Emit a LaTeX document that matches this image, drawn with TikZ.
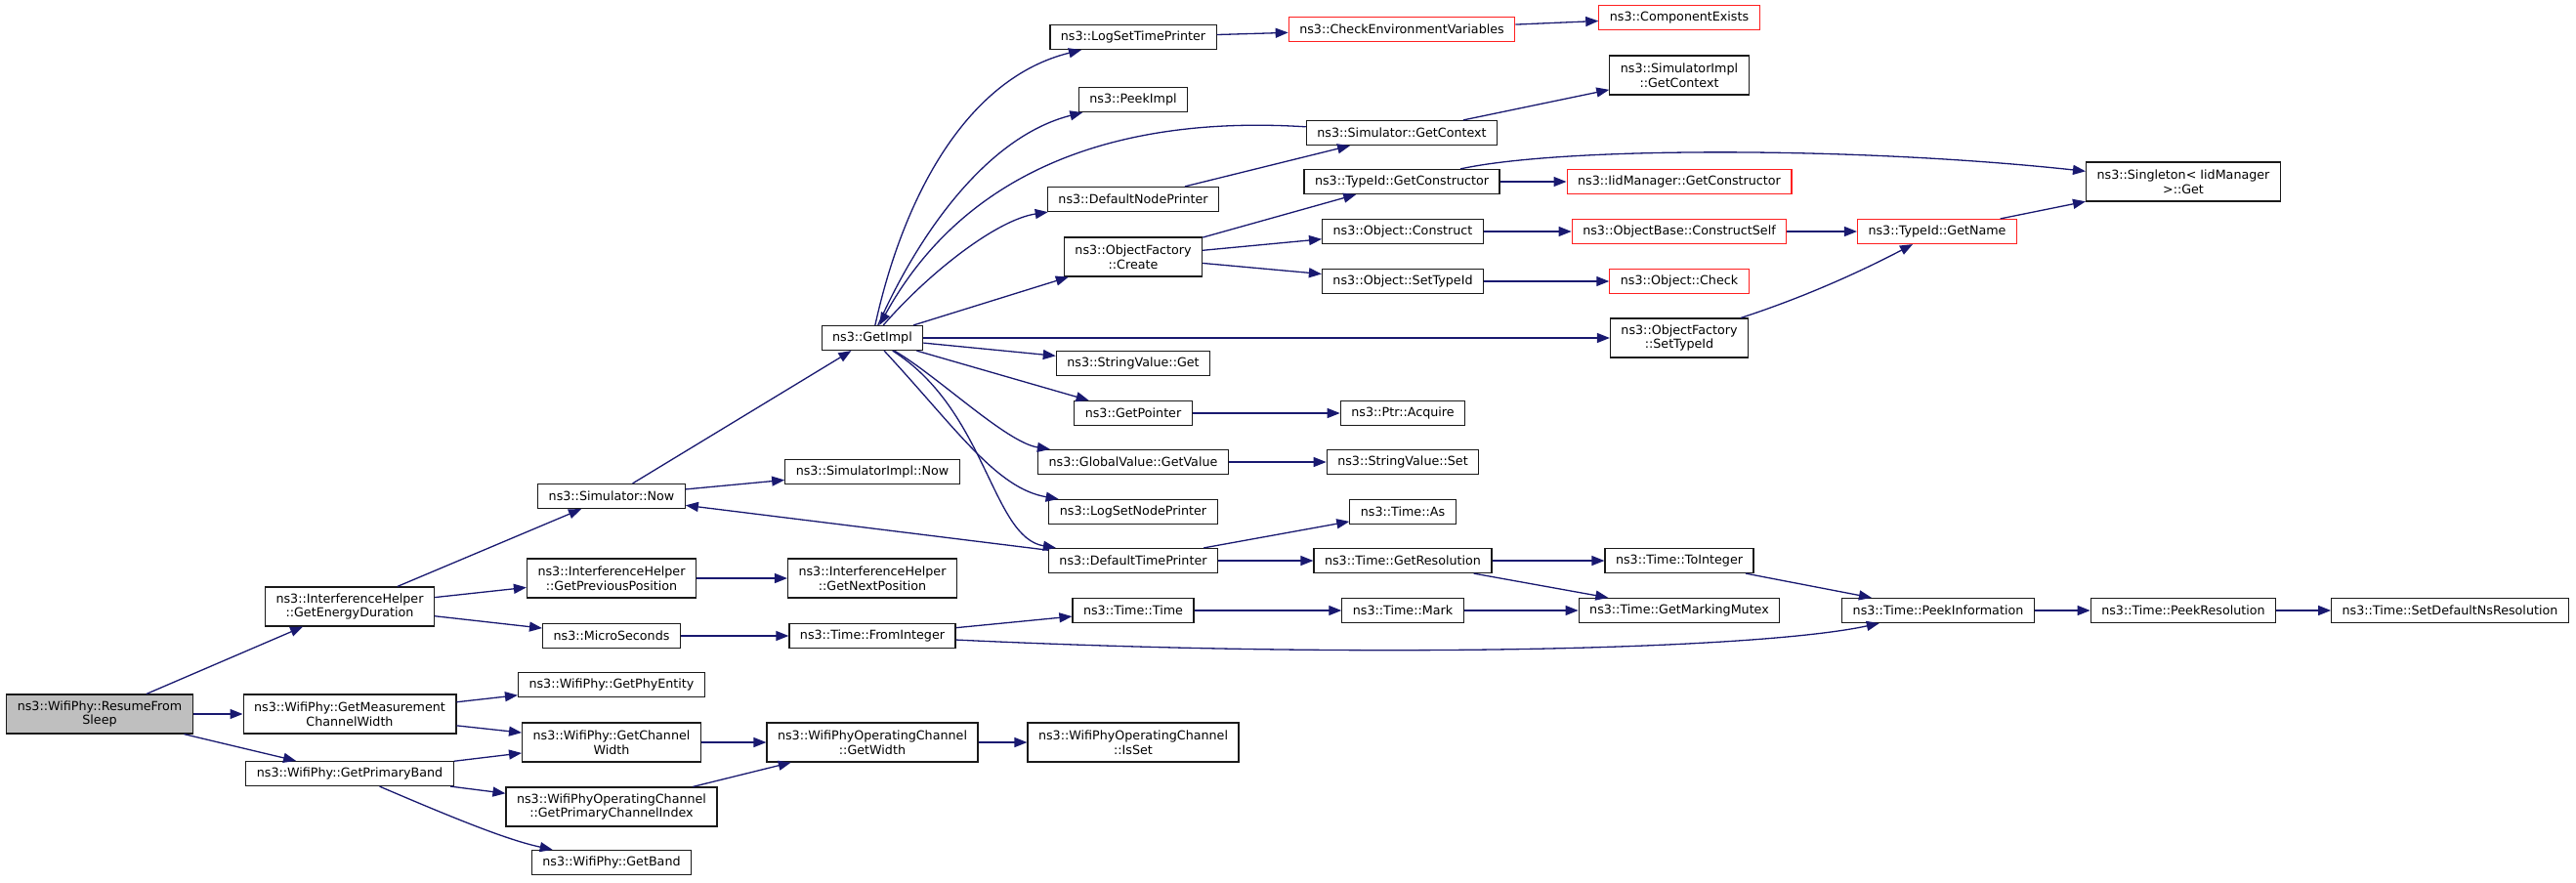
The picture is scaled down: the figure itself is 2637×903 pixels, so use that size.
\documentclass[tikz,border=0pt]{standalone}
\usepackage{fontspec}
\setmainfont{DejaVu Sans}
\usepackage{tikz}
\usetikzlibrary{arrows.meta}
\definecolor{callc}{HTML}{191970}
\definecolor{miss}{HTML}{FF2020}
\definecolor{rootfill}{HTML}{BFBFBF}
\definecolor{ink}{HTML}{1A1A1A}
\tikzset{
  fn/.style={rectangle, draw=ink, fill=white, line width=1.2pt, align=center,
             font=\fontsize{12.7}{14.6}\selectfont, inner xsep=11pt, inner ysep=2pt,
             minimum height=25pt},
  two/.style={fn, minimum height=40pt},
  fnx/.style={fn, draw=miss},
  root/.style={two, fill=rootfill},
  call/.style={-{Triangle[length=13pt,width=10pt]}, draw=callc, line width=1.3pt}
}

\begin{document}
\begin{tikzpicture}[x=1pt, y=-1pt]
  \useasboundingbox (0,0) rectangle (2637,903);
  \node[root] (resume) at (102,731) {ns3::WifiPhy::ResumeFrom\\Sleep};
  \node[two] (energy) at (358,621) {ns3::InterferenceHelper\\::GetEnergyDuration};
  \node[two] (meas) at (358,731) {ns3::WifiPhy::GetMeasurement\\ChannelWidth};
  \node[fn] (pband) at (358,792) {ns3::WifiPhy::GetPrimaryBand};
  \node[fn] (simnow) at (626,508) {ns3::Simulator::Now};
  \node[two] (prevpos) at (626,592) {ns3::InterferenceHelper\\::GetPreviousPosition};
  \node[fn] (micro) at (626,651) {ns3::MicroSeconds};
  \node[fn] (phyent) at (626,701) {ns3::WifiPhy::GetPhyEntity};
  \node[two] (chwidth) at (626,760) {ns3::WifiPhy::GetChannel\\Width};
  \node[two] (pcidx) at (626,826) {ns3::WifiPhyOperatingChannel\\::GetPrimaryChannelIndex};
  \node[fn] (band) at (626,883) {ns3::WifiPhy::GetBand};
  \node[fn] (getimpl) at (893,346) {ns3::GetImpl};
  \node[fn] (implnow) at (893,483) {ns3::SimulatorImpl::Now};
  \node[two] (nextpos) at (893,592) {ns3::InterferenceHelper\\::GetNextPosition};
  \node[fn] (fromint) at (893,651) {ns3::Time::FromInteger};
  \node[two] (opwidth) at (893,760) {ns3::WifiPhyOperatingChannel\\::GetWidth};
  \node[two] (isset) at (1160,760) {ns3::WifiPhyOperatingChannel\\::IsSet};
  \node[fn] (logtime) at (1160,38) {ns3::LogSetTimePrinter};
  \node[fn] (peekimpl) at (1160,102) {ns3::PeekImpl};
  \node[fn] (nodepr) at (1160,204) {ns3::DefaultNodePrinter};
  \node[two] (create) at (1160,263) {ns3::ObjectFactory\\::Create};
  \node[fn] (strget) at (1160,372) {ns3::StringValue::Get};
  \node[fn] (getptr) at (1160,423) {ns3::GetPointer};
  \node[fn] (gvget) at (1160,473) {ns3::GlobalValue::GetValue};
  \node[fn] (lognode) at (1160,524) {ns3::LogSetNodePrinter};
  \node[fn] (timepr) at (1160,574) {ns3::DefaultTimePrinter};
  \node[fn] (ttime) at (1160,625) {ns3::Time::Time};
  \node[fnx] (checkenv) at (1435,30) {ns3::CheckEnvironmentVariables};
  \node[fn] (simctx) at (1435,136) {ns3::Simulator::GetContext};
  \node[fn] (tidctor) at (1435,186) {ns3::TypeId::GetConstructor};
  \node[fn] (construct) at (1436,237) {ns3::Object::Construct};
  \node[fn] (settid) at (1436,288) {ns3::Object::SetTypeId};
  \node[fn] (acquire) at (1436,423) {ns3::Ptr::Acquire};
  \node[fn] (strset) at (1436,473) {ns3::StringValue::Set};
  \node[fn] (timeas) at (1436,524) {ns3::Time::As};
  \node[fn] (getres) at (1436,574) {ns3::Time::GetResolution};
  \node[fn] (mark) at (1436,625) {ns3::Time::Mark};
  \node[fnx] (compex) at (1719,18) {ns3::ComponentExists};
  \node[two] (implctx) at (1719,77) {ns3::SimulatorImpl\\::GetContext};
  \node[fnx] (iidctor) at (1719,186) {ns3::IidManager::GetConstructor};
  \node[fnx] (cself) at (1719,237) {ns3::ObjectBase::ConstructSelf};
  \node[fnx] (check) at (1719,288) {ns3::Object::Check};
  \node[two] (ofsettid) at (1719,346) {ns3::ObjectFactory\\::SetTypeId};
  \node[fn] (toint) at (1719,574) {ns3::Time::ToInteger};
  \node[fn] (mutex) at (1719,625) {ns3::Time::GetMarkingMutex};
  \node[fnx] (getname) at (1983,237) {ns3::TypeId::GetName};
  \node[two] (single) at (2235,186) {ns3::Singleton< IidManager\\>::Get};
  \node[fn] (peekinfo) at (1984,625) {ns3::Time::PeekInformation};
  \node[fn] (peekres) at (2235,625) {ns3::Time::PeekResolution};
  \node[fn] (setdef) at (2508,625) {ns3::Time::SetDefaultNsResolution};

  \draw[call] (resume)--(energy); \draw[call] (resume)--(meas); \draw[call] (resume)--(pband);
  \draw[call] (energy)--(simnow); \draw[call] (energy)--(prevpos); \draw[call] (energy)--(micro);
  \draw[call] (meas)--(phyent); \draw[call] (meas)--(chwidth);
  \draw[call] (pband)--(chwidth); \draw[call] (pband)--(pcidx);
  \draw[call] (pband) .. controls (470,840) and (520,860) .. (band);
  \draw[call] (simnow)--(getimpl); \draw[call] (simnow)--(implnow);
  \draw[call] (prevpos)--(nextpos); \draw[call] (micro)--(fromint);
  \draw[call] (chwidth)--(opwidth); \draw[call] (pcidx)--(opwidth); \draw[call] (opwidth)--(isset);
  \draw[call] (fromint)--(ttime);
  \draw[call] (fromint) .. controls (1400,675) and (1800,665) .. (peekinfo);
  \draw[call] (getimpl) .. controls (925,200) and (990,80) .. (logtime);
  \draw[call] (getimpl) .. controls (940,240) and (1010,140) .. (peekimpl);
  \draw[call] (simctx) .. controls (1150,118) and (990,170) .. (getimpl);
  \draw[call] (getimpl) .. controls (950,280) and (1020,225) .. (nodepr);
  \draw[call] (getimpl)--(create); \draw[call] (getimpl)--(ofsettid);
  \draw[call] (getimpl)--(strget); \draw[call] (getimpl)--(getptr);
  \draw[call] (getimpl) .. controls (960,385) and (1030,453) .. (gvget);
  \draw[call] (getimpl) .. controls (980,440) and (1020,500) .. (lognode);
  \draw[call] (getimpl) .. controls (1010,420) and (1015,550) .. (timepr);
  \draw[call] (timepr)--(simnow); \draw[call] (timepr)--(timeas); \draw[call] (timepr)--(getres);
  \draw[call] (logtime)--(checkenv); \draw[call] (checkenv)--(compex);
  \draw[call] (simctx)--(implctx); \draw[call] (nodepr)--(simctx);
  \draw[call] (create)--(tidctor); \draw[call] (create)--(construct); \draw[call] (create)--(settid);
  \draw[call] (tidctor)--(iidctor);
  \draw[call] (tidctor) .. controls (1600,150) and (1900,150) .. (single);
  \draw[call] (construct)--(cself); \draw[call] (cself)--(getname); \draw[call] (getname)--(single);
  \draw[call] (settid)--(check);
  \draw[call] (ofsettid) .. controls (1860,300) and (1920,270) .. (getname);
  \draw[call] (getptr)--(acquire); \draw[call] (gvget)--(strset);
  \draw[call] (ttime)--(mark); \draw[call] (mark)--(mutex);
  \draw[call] (getres)--(toint); \draw[call] (getres)--(mutex); \draw[call] (toint)--(peekinfo);
  \draw[call] (peekinfo)--(peekres); \draw[call] (peekres)--(setdef);
\end{tikzpicture}
\end{document}
